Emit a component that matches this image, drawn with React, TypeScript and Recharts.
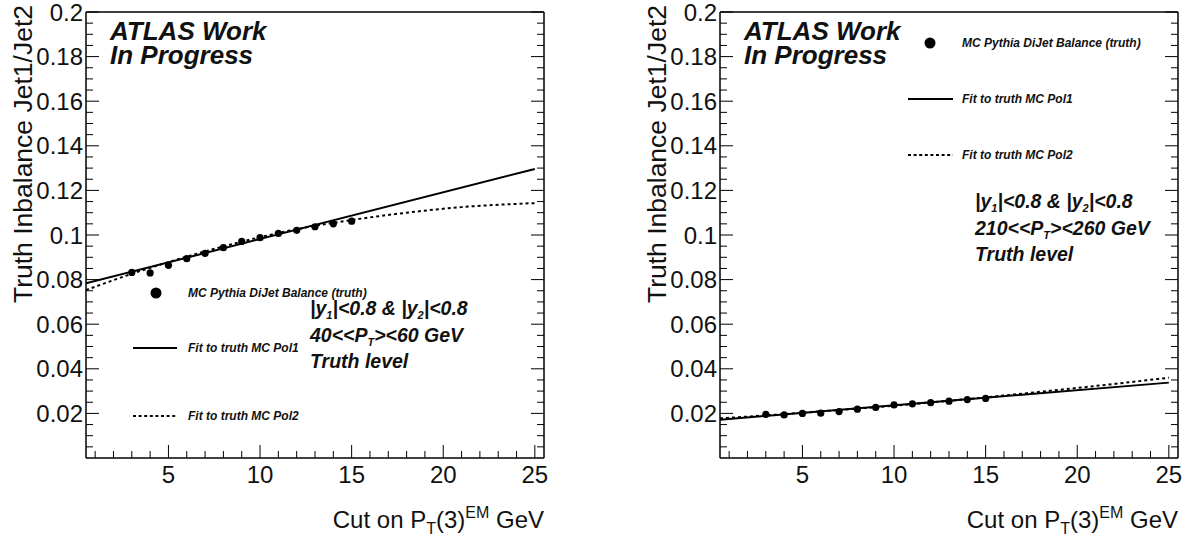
import React from "react";
import { ComposedChart, Line, Scatter, XAxis, YAxis } from "recharts";

const FONT = "'Liberation Sans', Arial, Helvetica, sans-serif";

// --- axis ticks ---
const xMajorTicks = [5, 10, 15, 20, 25];
const xAllTicks = [1, 2, 3, 4, 5, 6, 7, 8, 9, 10, 11, 12, 13, 14, 15, 16, 17, 18, 19, 20, 21, 22, 23, 24, 25];
const yMajorTicks = [0.02, 0.04, 0.06, 0.08, 0.1, 0.12, 0.14, 0.16, 0.18, 0.2];
const yMajorLabels = ["0.02", "0.04", "0.06", "0.08", "0.1", "0.12", "0.14", "0.16", "0.18", "0.2"];
const yAllTicks = Array.from({ length: 40 }, (_, i) => +((i + 1) * 0.005).toFixed(3));

// --- data ---
const ptCut = [3, 4, 5, 6, 7, 8, 9, 10, 11, 12, 13, 14, 15];
const balance40to60 = [0.0832, 0.083, 0.0864, 0.0894, 0.0918, 0.0943, 0.0971, 0.0988, 0.1007, 0.1021, 0.1037, 0.105, 0.1062];
const balance210to260 = [0.0196, 0.0193, 0.02, 0.0201, 0.0208, 0.0219, 0.0227, 0.0238, 0.0243, 0.0248, 0.0255, 0.0262, 0.0267];

const pol1X = [0.5, 25];
const pol1_40to60 = [0.0783, 0.1296];
const pol1_210to260 = [0.0172, 0.0338];

const pol2X = [0.5, 3, 6, 9, 12, 15, 18, 21, 25];
const pol2_40to60 = [0.0753, 0.0826, 0.0903, 0.097, 0.1026, 0.1067, 0.11, 0.1125, 0.1143];
const pol2_210to260 = [0.0178, 0.0191, 0.0209, 0.0228, 0.0249, 0.0272, 0.0297, 0.0323, 0.036];

const toPoints = (xs: number[], ys: number[]) => xs.map((x, i) => ({ x, y: ys[i] }));

const near = (v: number, list: number[]) => list.findIndex((m) => Math.abs(m - v) < 1e-6);

// --- ROOT style ticks (inside the frame) ---
const BottomTick = ({ x, y, payload }: any) => {
  const major = near(payload.value, xMajorTicks) >= 0;
  return (
    <g>
      <line x1={x} y1={y} x2={x} y2={y - (major ? 13 : 7)} stroke="#000" />
      {major && (
        <text x={x} y={y + 25} textAnchor="middle" fontSize={24} fontFamily={FONT} fill="#111">
          {payload.value}
        </text>
      )}
    </g>
  );
};

const TopTick = ({ x, y, payload }: any) => {
  const major = near(payload.value, xMajorTicks) >= 0;
  return <line x1={x} y1={y} x2={x} y2={y + (major ? 13 : 7)} stroke="#000" />;
};

const LeftTick = ({ x, y, payload }: any) => {
  const idx = near(payload.value, yMajorTicks);
  return (
    <g>
      <line x1={x} y1={y} x2={x + (idx >= 0 ? 13 : 7)} y2={y} stroke="#000" />
      {idx >= 0 && (
        <text x={x - 3} y={y} dy="0.36em" textAnchor="end" fontSize={24} fontFamily={FONT} fill="#111">
          {yMajorLabels[idx]}
        </text>
      )}
    </g>
  );
};

const RightTick = ({ x, y, payload }: any) => {
  const major = near(payload.value, yMajorTicks) >= 0;
  return <line x1={x} y1={y} x2={x - (major ? 13 : 7)} y2={y} stroke="#000" />;
};

const Dot = (props: any) => <circle cx={props.cx} cy={props.cy} r={3.6} fill="#000" />;

type PanelProps = {
  left: number;
  width: number;
  rightPad: number;
  points: number[];
  pol1: number[];
  pol2: number[];
  legend: { mx: number; my: number; y1: number; y2: number; lx1: number; lx2: number; tx: number };
  cuts: { x: number; y: number; range: string };
};

function Panel({ left, width, rightPad, points, pol1, pol2, legend, cuts }: PanelProps) {
  const small = { fontSize: 12, fontWeight: "bold" as const, fontStyle: "italic" as const, fontFamily: FONT, fill: "#111" };
  const mid = { fontSize: 19.5, fontWeight: "bold" as const, fontStyle: "italic" as const, fontFamily: FONT, fill: "#111" };
  return (
    <div style={{ position: "absolute", left, top: 0, width, height: 541 }}>
      <ComposedChart width={width} height={541} margin={{ top: 0, right: 0, bottom: 0, left: 0 }}>
        <XAxis
          dataKey="x"
          type="number"
          domain={[0.5, 25.5]}
          ticks={xAllTicks}
          interval={0}
          allowDataOverflow
          height={83}
          tickSize={0}
          tickMargin={0}
          axisLine={{ stroke: "#000", strokeWidth: 1.5 }}
          tick={<BottomTick />}
        />
        <XAxis
          xAxisId="top"
          orientation="top"
          type="number"
          domain={[0.5, 25.5]}
          ticks={xAllTicks}
          interval={0}
          allowDataOverflow
          height={12}
          tickSize={0}
          tickMargin={0}
          axisLine={{ stroke: "#000", strokeWidth: 1.5 }}
          tick={<TopTick />}
        />
        <YAxis
          dataKey="y"
          type="number"
          domain={[0, 0.2]}
          ticks={yAllTicks}
          interval={0}
          allowDataOverflow
          width={86}
          tickSize={0}
          tickMargin={0}
          axisLine={{ stroke: "#000", strokeWidth: 1.5 }}
          tick={<LeftTick />}
        />
        <YAxis
          yAxisId="right"
          orientation="right"
          type="number"
          domain={[0, 0.2]}
          ticks={yAllTicks}
          interval={0}
          allowDataOverflow
          width={rightPad}
          tickSize={0}
          tickMargin={0}
          axisLine={{ stroke: "#000", strokeWidth: 1.5 }}
          tick={<RightTick />}
        />
        <Line
          data={toPoints(pol2X, pol2)}
          dataKey="y"
          type="monotone"
          stroke="#000"
          strokeWidth={2}
          strokeDasharray="3 3"
          dot={false}
          isAnimationActive={false}
        />
        <Line
          data={toPoints(pol1X, pol1)}
          dataKey="y"
          type="linear"
          stroke="#000"
          strokeWidth={2}
          dot={false}
          isAnimationActive={false}
        />
        <Scatter data={toPoints(ptCut, points)} dataKey="y" shape={<Dot />} isAnimationActive={false} />
      </ComposedChart>

      <svg width={width} height={541} style={{ position: "absolute", left: 0, top: 0, pointerEvents: "none" }}>
        <g fontFamily={FONT} fill="#111">
          <text x={110} y={40} fontSize={26} fontWeight="bold" fontStyle="italic">ATLAS Work</text>
          <text x={110} y={64} fontSize={26} fontWeight="bold" fontStyle="italic">In Progress</text>

          <text transform="translate(32, 5) rotate(-90)" textAnchor="end" fontSize={26.5}>
            Truth Inbalance Jet1/Jet2
          </text>

          <text x={544} y={528} textAnchor="end" fontSize={24}>
            Cut on P<tspan dy={6} fontSize={16}>T</tspan>
            <tspan dy={-6}>(3)</tspan>
            <tspan dy={-10} fontSize={16}>EM</tspan>
            <tspan dy={10}> GeV</tspan>
          </text>
        </g>

        <circle cx={legend.mx} cy={legend.my} r={5.5} fill="#000" />
        <text x={legend.tx} y={legend.my + 4} {...small}>MC Pythia DiJet Balance (truth)</text>
        <line x1={legend.lx1} x2={legend.lx2} y1={legend.y1} y2={legend.y1} stroke="#000" strokeWidth={2} />
        <text x={legend.tx} y={legend.y1 + 4} {...small}>Fit to truth MC Pol1</text>
        <line x1={legend.lx1} x2={legend.lx2} y1={legend.y2} y2={legend.y2} stroke="#000" strokeWidth={2} strokeDasharray="3 2.6" />
        <text x={legend.tx} y={legend.y2 + 4} {...small}>Fit to truth MC Pol2</text>

        <text x={cuts.x} y={cuts.y} {...mid}>
          |y<tspan dy={4} fontSize={11}>1</tspan>
          <tspan dy={-4}>{"|<0.8 & |y"}</tspan>
          <tspan dy={4} fontSize={11}>2</tspan>
          <tspan dy={-4}>{"|<0.8"}</tspan>
        </text>
        <text x={cuts.x} y={cuts.y + 27} {...mid}>
          {cuts.range.split("|")[0]}
          <tspan dy={4} fontSize={11}>T</tspan>
          <tspan dy={-4}>{cuts.range.split("|")[1]}</tspan>
        </text>
        <text x={cuts.x} y={cuts.y + 53} {...mid}>Truth level</text>
      </svg>
    </div>
  );
}

export default function App() {
  return (
    <div style={{ position: "absolute", left: 0, top: 0, width: 1197, height: 541, background: "#fff", overflow: "hidden" }}>
      <Panel
        left={0}
        width={598}
        rightPad={54}
        points={balance40to60}
        pol1={pol1_40to60}
        pol2={pol2_40to60}
        legend={{ mx: 156, my: 293, y1: 348, y2: 416, lx1: 133, lx2: 177, tx: 188 }}
        cuts={{ x: 310, y: 315, range: "40<<P|><60 GeV" }}
      />
      <Panel
        left={634}
        width={563}
        rightPad={19}
        points={balance210to260}
        pol1={pol1_210to260}
        pol2={pol2_210to260}
        legend={{ mx: 296, my: 43, y1: 99, y2: 155, lx1: 274, lx2: 319, tx: 328 }}
        cuts={{ x: 341, y: 208, range: "210<<P|><260 GeV" }}
      />
    </div>
  );
}
